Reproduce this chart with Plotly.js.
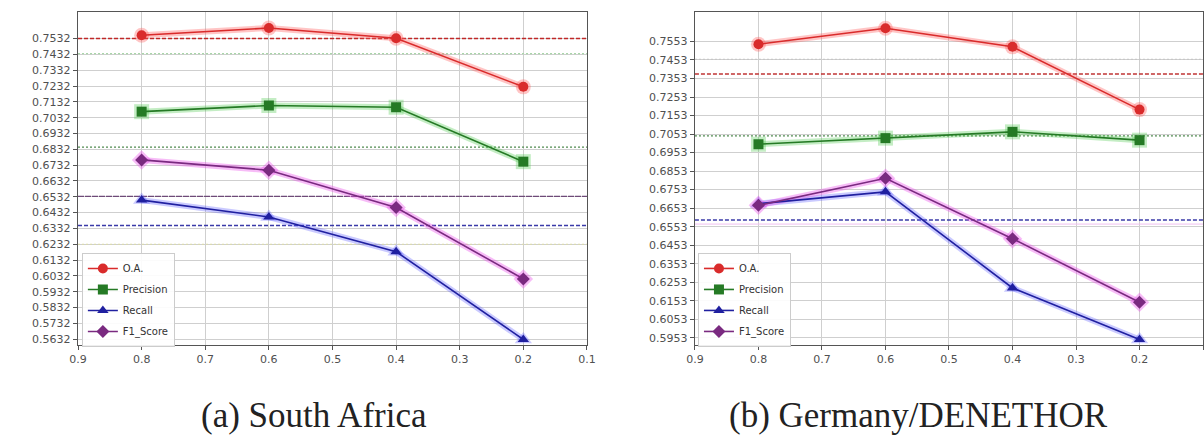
<!DOCTYPE html>
<html><head><meta charset="utf-8">
<script src="https://cdn.plot.ly/plotly-3.0.1.min.js"></script>
<style>html,body{margin:0;padding:0;background:#fff;}#chart{width:1204px;height:443px;}</style>
</head><body><div id="chart"></div>
<script>
// ---- data ----
const thresholds = [0.8, 0.6, 0.4, 0.2];
const xTicks = [0.9, 0.8, 0.7, 0.6, 0.5, 0.4, 0.3, 0.2, 0.1];
const seriesNames = ['O.A.', 'Precision', 'Recall', 'F1_Score'];

// (a) South Africa
const saOA        = [0.7553, 0.7599, 0.7534, 0.7227];
const saPrecision = [0.7070, 0.7109, 0.7098, 0.6754];
const saRecall    = [0.6511, 0.6404, 0.6185, 0.5630];
const saF1        = [0.6765, 0.6700, 0.6464, 0.6013];
const saTicks = [0.7532, 0.7432, 0.7332, 0.7232, 0.7132, 0.7032, 0.6932, 0.6832, 0.6732, 0.6632,
                 0.6532, 0.6432, 0.6332, 0.6232, 0.6132, 0.6032, 0.5932, 0.5832, 0.5732, 0.5632];
const saBaselines = [0.7532, 0.7437, 0.6846, 0.6535, 0.6350, 0.6232];

// (b) Germany/DENETHOR
const deOA        = [0.7538, 0.7624, 0.7524, 0.7185];
const dePrecision = [0.6998, 0.7031, 0.7065, 0.7020];
const deRecall    = [0.6677, 0.6741, 0.6222, 0.5944];
const deF1        = [0.6668, 0.6814, 0.6488, 0.6145];
const deTicks = [0.7553, 0.7453, 0.7353, 0.7253, 0.7153, 0.7053, 0.6953, 0.6853, 0.6753,
                 0.6653, 0.6553, 0.6453, 0.6353, 0.6253, 0.6153, 0.6053, 0.5953];
const deBaselines = [0.7456, 0.7377, 0.7043, 0.6589, 0.6567];

const captions = ['(a) South Africa', '(b) Germany/DENETHOR'];

// ---- styles ----
const lineColors = ['#d92b2b', '#257a25', '#2020a0', '#7a2a80'];
const haloColors = ['rgba(255,90,90,0.35)', 'rgba(70,200,70,0.32)', 'rgba(90,90,255,0.32)', 'rgba(235,80,235,0.38)'];
const symbols = ['circle', 'square', 'triangle-up', 'diamond'];
const saBaseStyles = [
  {color: '#c02828', dash: '4px,2px', width: 1.5},
  {color: '#a9d6a9', dash: '2px,2px', width: 1.2},
  {color: '#4f8a4f', dash: '2px,2px', width: 1.3},
  {color: '#6e4a78', dash: '6px,1px', width: 1.3},
  {color: '#3a3aa8', dash: '4px,2px', width: 1.4},
  {color: '#dcdca6', dash: '2px,2px', width: 1.2}
];
const deBaseStyles = [
  {color: '#c6c6c6', dash: '2px,2px', width: 1.1},
  {color: '#c03535', dash: '4px,2px', width: 1.4},
  {color: '#4f8a4f', dash: '2px,2px', width: 1.3},
  {color: '#3a3aa8', dash: '4px,2px', width: 1.4},
  {color: '#f0c0f0', dash: 'solid', width: 1.0}
];

const xEnds = [xTicks[0], xTicks[xTicks.length - 1]];
function makeBaselines(values, styles, xa, ya) {
  return values.map((v, i) => ({
    x: xEnds, y: [v, v], xaxis: xa, yaxis: ya, type: 'scatter', mode: 'lines',
    line: styles[i], showlegend: false, hoverinfo: 'skip', cliponaxis: true
  }));
}

function makeTraces(series, xa, ya, legendId) {
  const halos = [], mains = [];
  series.forEach((vals, i) => {
    halos.push({
      x: thresholds, y: vals, xaxis: xa, yaxis: ya, type: 'scatter', mode: 'lines+markers',
      line: {color: haloColors[i], width: 6},
      marker: {symbol: symbols[i], size: 15, color: haloColors[i]},
      showlegend: false, hoverinfo: 'skip'
    });
    mains.push({
      x: thresholds, y: vals, xaxis: xa, yaxis: ya, type: 'scatter', mode: 'lines+markers',
      name: seriesNames[i], legend: legendId, legendgroup: legendId + i,
      line: {color: lineColors[i], width: 1.6},
      marker: {symbol: symbols[i], size: 10, color: lineColors[i]}
    });
  });
  return halos.concat(mains);
}

const data = []
  .concat(makeBaselines(saBaselines, saBaseStyles, 'x', 'y'))
  .concat(makeBaselines(deBaselines, deBaseStyles, 'x2', 'y2'))
  .concat(makeTraces([saOA, saPrecision, saRecall, saF1], 'x', 'y', 'legend'))
  .concat(makeTraces([deOA, dePrecision, deRecall, deF1], 'x2', 'y2', 'legend2'));

const tickFont = {family: 'DejaVu Sans', size: 11, color: '#505050'};
function xAxis(domain, anchor) {
  return {domain: domain, anchor: anchor, range: [0.9, 0.1], tickvals: xTicks, ticktext: xTicks.map(v => v.toFixed(1)),
    showgrid: true, gridcolor: '#cfcfcf', gridwidth: 1, zeroline: false,
    showline: true, linecolor: '#555', linewidth: 1.2, mirror: true,
    ticks: 'outside', ticklen: 4, tickcolor: '#555', tickfont: tickFont};
}
function yAxis(domain, anchor, range, ticks) {
  return {domain: domain, anchor: anchor, range: range, tickvals: ticks, ticktext: ticks.map(v => v.toFixed(4)),
    showgrid: true, gridcolor: '#cfcfcf', gridwidth: 1, zeroline: false,
    showline: true, linecolor: '#555', linewidth: 1.2, mirror: true,
    ticks: 'outside', ticklen: 4, tickcolor: '#555', tickfont: tickFont};
}
const legendBase = {font: {family: 'DejaVu Sans', size: 10, color: '#333'}, bgcolor: 'rgba(255,255,255,0.9)',
  bordercolor: '#cccccc', borderwidth: 1, tracegroupgap: 2, yanchor: 'top', xanchor: 'left', itemwidth: 30};

const layout = {
  width: 1204, height: 443, margin: {l: 0, r: 0, t: 0, b: 0},
  paper_bgcolor: '#fff', plot_bgcolor: '#fff', showlegend: true,
  xaxis: xAxis([0.0648, 0.4875], 'y'),
  yaxis: yAxis([0.2212, 0.9729], 'x', [0.5595, 0.7700], saTicks),
  xaxis2: xAxis([0.5772, 0.9992], 'y2'),
  yaxis2: yAxis([0.2212, 0.9729], 'x2', [0.5914, 0.7712], deTicks),
  legend: Object.assign({x: 0.068, y: 0.429}, legendBase),
  legend2: Object.assign({x: 0.5797, y: 0.429}, legendBase),
  annotations: [
    {text: captions[0], xref: 'paper', yref: 'paper', x: 314 / 1204, y: 1 - 415 / 443, xanchor: 'center', yanchor: 'middle',
      showarrow: false, font: {family: 'Liberation Serif', size: 35, color: '#222'}},
    {text: captions[1], xref: 'paper', yref: 'paper', x: 918 / 1204, y: 1 - 415 / 443, xanchor: 'center', yanchor: 'middle',
      showarrow: false, font: {family: 'Liberation Serif', size: 35, color: '#222'}}
  ]
};
Plotly.newPlot('chart', data, layout, {displayModeBar: false, staticPlot: true});
</script></body></html>
